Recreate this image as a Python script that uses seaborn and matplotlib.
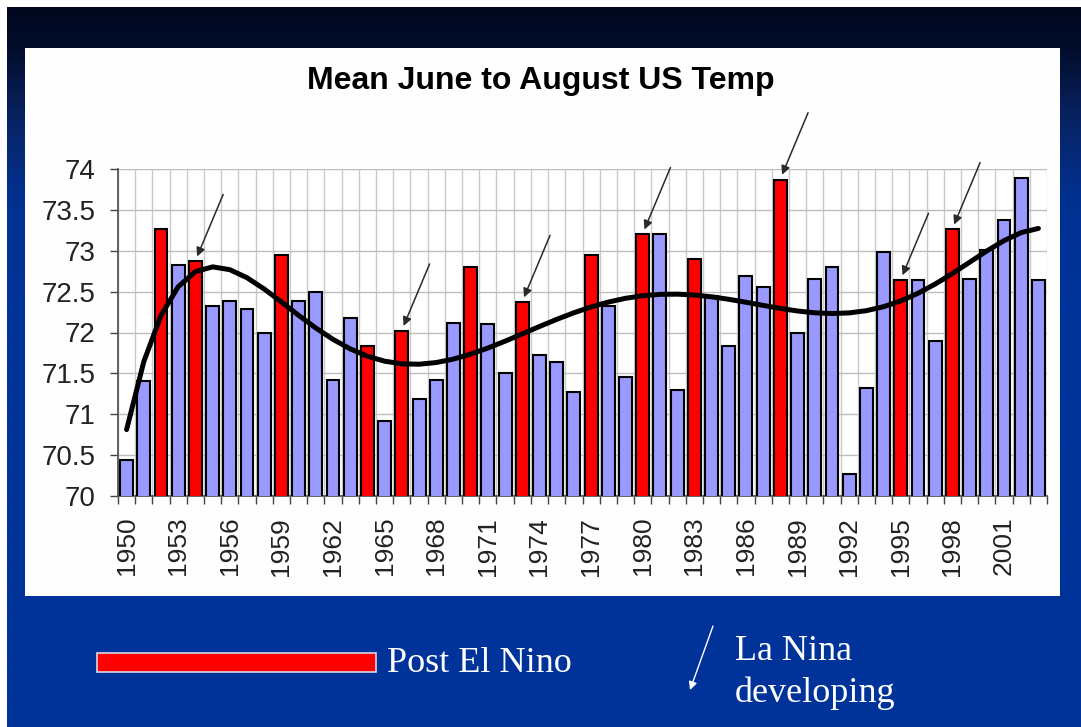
import numpy as np
import pandas as pd
import matplotlib
matplotlib.use("Agg")
import matplotlib.pyplot as plt
import seaborn as sns
from matplotlib.patches import Rectangle
from matplotlib.colors import LinearSegmentedColormap

# Mean June-August US temperature (deg F), 1950-2003
years = list(range(1950, 2004))
temps = [70.44, 71.41, 73.26, 72.83, 72.87, 72.32, 72.39, 72.29, 71.99, 72.95,
         72.39, 72.50, 71.42, 72.18, 71.83, 70.92, 72.02, 71.19, 71.42, 72.12,
         72.80, 72.10, 71.50, 72.37, 71.72, 71.64, 71.27, 72.95, 72.32, 71.45,
         73.20, 73.20, 71.30, 72.90, 72.45, 71.83, 72.69, 72.56, 73.87, 71.99,
         72.66, 72.80, 70.27, 71.32, 72.98, 72.64, 72.64, 71.89, 73.26, 72.66,
         73.01, 73.38, 73.89, 72.64]
post_el_nino = [1952, 1954, 1959, 1964, 1966, 1970, 1973, 1977, 1980, 1983,
                1988, 1995, 1998]
la_nina_developing = [1954, 1966, 1973, 1980, 1988, 1995, 1998]
label_years = list(range(1950, 2002, 3))
y_ticks = [70, 70.5, 71, 71.5, 72, 72.5, 73, 73.5, 74]

title = "Mean June to August US Temp"
legend_bar = "Post El Nino"
legend_arrow = ["La Nina", "developing"]

W, H = 1081, 727
DPI = 100

sns.set_theme(style="white")
plt.rcParams["font.family"] = ["Liberation Sans", "DejaVu Sans"]

fig = plt.figure(figsize=(W / DPI, H / DPI), dpi=DPI, facecolor="white")

# ---- slide background (pixel coordinates) ----
bg = fig.add_axes([0, 0, 1, 1], zorder=-10)
bg.set_xlim(0, W)
bg.set_ylim(H, 0)
bg.axis("off")
grad = LinearSegmentedColormap.from_list(
    "slide",
    [(0.0, "#01081e"), (0.06, "#030e2e"), (0.16, "#082466"),
     (0.26, "#01308f"), (0.4, "#003399"), (1.0, "#003399")])
bg.imshow(np.linspace(0, 1, 256).reshape(-1, 1), cmap=grad, aspect="auto",
          extent=(7, W, H, 7), zorder=0)
bg.add_patch(Rectangle((25, 48), 1035, 548, facecolor="#fefefe",
                       edgecolor="none", zorder=1))

# ---- bar chart ----
df = pd.DataFrame({"year": years, "temp": temps})
df["kind"] = np.where(df["year"].isin(post_el_nino), "post", "other")

ax = fig.add_axes([118 / W, 1 - 496 / H, 929 / W, 327 / H], zorder=2)
ax.set_facecolor("white")
sns.barplot(data=df, x="year", y="temp", hue="kind", order=years,
            palette={"other": "#9999ff", "post": "#ff0000"},
            dodge=False, width=0.75, saturation=1, edgecolor="black",
            linewidth=1.5, legend=False, ax=ax, zorder=3)

# polynomial trend through the annual values
xi = np.arange(len(years))
coef = np.polyfit(xi - xi.mean(), temps, 6)
trend = np.polyval(coef, xi - xi.mean())
sns.lineplot(x=xi, y=trend, color="black", linewidth=3.6, ax=ax, zorder=5)

ax.set_xlim(-0.5, len(years) - 0.5)
ax.set_ylim(70, 74)
ax.set_yticks(y_ticks)
ax.set_yticklabels([f"{v:g}" for v in y_ticks])
ax.set_xticks([years.index(y) for y in label_years])
ax.set_xticklabels([str(y) for y in label_years], rotation=90)
ax.set_xticks(np.arange(-0.5, len(years), 1), minor=True)
ax.set_xlabel("")
ax.set_ylabel("")

ax.grid(True, which="major", axis="y", color="#bdbdbd", linewidth=1.0, zorder=0)
ax.grid(True, which="minor", axis="x", color="#cacaca", linewidth=1.0, zorder=0)
ax.set_axisbelow(True)
for s in ("top", "right"):
    ax.spines[s].set_visible(False)
for s in ("left", "bottom"):
    ax.spines[s].set_color("#555555")
    ax.spines[s].set_linewidth(1.3)

ax.tick_params(axis="x", which="major", length=0, pad=15, labelsize=19,
               labelcolor="#222222")
ax.tick_params(axis="x", which="minor", length=5.5, width=1.0, color="#444444",
               direction="out", bottom=True)
ax.tick_params(axis="y", which="major", length=6, width=1.0, color="#444444",
               direction="out", left=True, pad=10, labelsize=20,
               labelcolor="#222222")

# arrows marking years when La Nina was developing
for yr in la_nina_developing:
    i = years.index(yr)
    v = temps[i]
    ax.annotate("", xy=(i + 0.1, v + 0.06), xycoords="data",
                xytext=(26, 62), textcoords="offset pixels",
                arrowprops=dict(arrowstyle="-|>", color="#2a2a2a", lw=1.1,
                                mutation_scale=13, shrinkA=0, shrinkB=0),
                zorder=6, annotation_clip=False)

fig.text(541 / W, 1 - 81 / H, title, ha="center", va="center",
         fontsize=23, fontweight="bold", color="black")

# ---- legend below the chart ----
bg.add_patch(Rectangle((97, 653), 279, 19, facecolor="#ff0000",
                       edgecolor="#d8d8e8", linewidth=1.2, zorder=2))
serif = ["Liberation Serif", "DejaVu Serif"]
bg.text(387, 664, legend_bar, ha="left", va="center", fontsize=26,
        family=serif, color="white", zorder=3)
bg.text(735, 652, legend_arrow[0], ha="left", va="center", fontsize=26,
        family=serif, color="white", zorder=3)
bg.text(735, 693, legend_arrow[1], ha="left", va="center", fontsize=26,
        family=serif, color="white", zorder=3)
bg.annotate("", xy=(690, 690), xytext=(713, 626),
            arrowprops=dict(arrowstyle="-|>", color="white", lw=1.0,
                            mutation_scale=12, shrinkA=0, shrinkB=0),
            zorder=3)

fig.savefig("out.png", dpi=DPI, facecolor=fig.get_facecolor())
